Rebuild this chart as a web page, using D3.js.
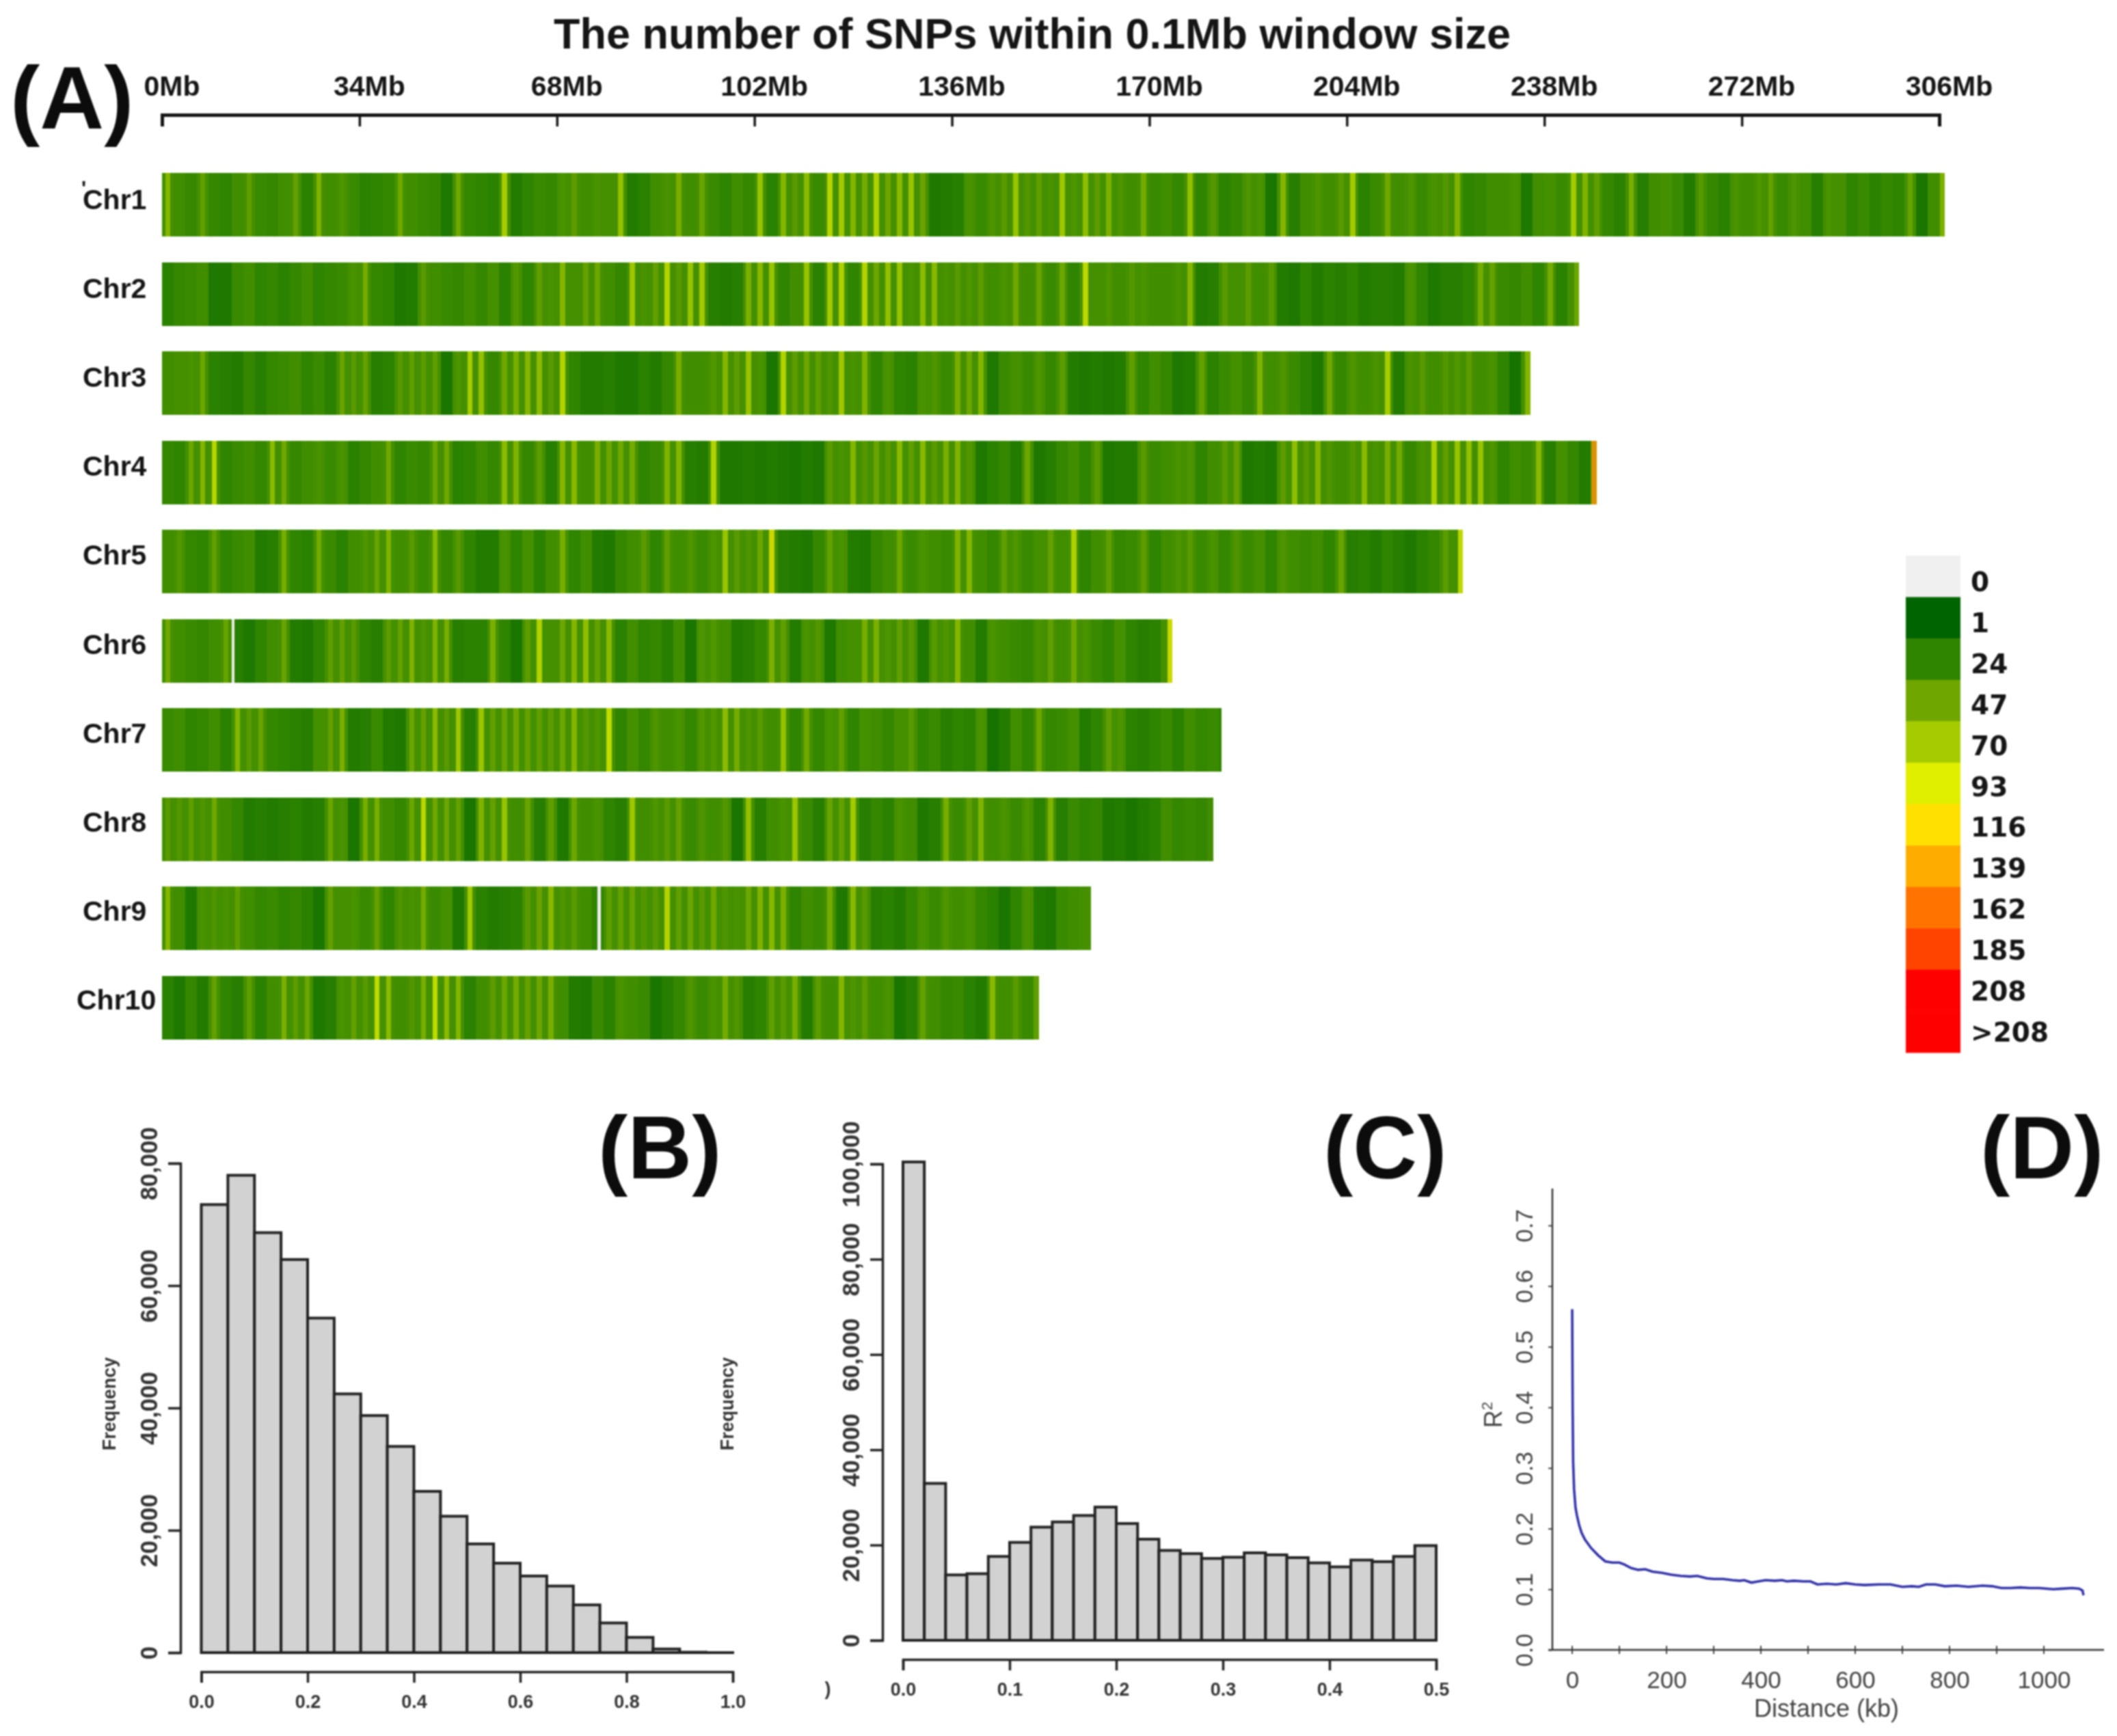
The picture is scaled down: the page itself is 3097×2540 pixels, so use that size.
<!DOCTYPE html>
<html><head><meta charset="utf-8">
<script src="https://cdn.jsdelivr.net/npm/d3@7/dist/d3.min.js"></script>
<style>html,body{margin:0;background:#fff}svg{display:block;filter:blur(0.9px)}text{font-family:"Liberation Sans",Arial,sans-serif}</style>
</head><body><svg id="c" width="3097" height="2540"></svg>
<script>
const chrNames=["Chr1","Chr2","Chr3","Chr4","Chr5","Chr6","Chr7","Chr8","Chr9","Chr10"];
const chrLengths=[307,244,235.6,247,224,174,182.4,181,160,151];
const binMb=2;
// SNP counts per 0.1Mb window, read in 2Mb steps along each chromosome
const chr1=[62,30,27,45,26,24,30,44,28,26,30,46,22,60,30,36,28,22,24,26,52,30,28,26,16,52,26,24,22,80,18,24,28,26,34,42,30,34,32,70,18,22,30,34,56,30,48,28,24,30,26,72,22,62,40,66,28,88,78,62,54,84,50,66,72,48,16,18,20,34,28,36,40,72,38,44,34,76,36,68,42,58,36,30,54,28,30,26,70,24,38,22,26,36,34,14,62,20,30,36,30,40,78,22,28,52,30,36,28,34,38,60,24,26,30,30,34,16,30,32,28,78,60,44,26,22,58,20,30,32,28,18,40,26,22,34,30,36,46,28,36,30,20,34,32,24,28,22,26,24,48,14,30,58];
const chr2=[22,26,28,30,16,16,28,30,24,26,22,26,30,24,26,28,34,55,26,24,16,18,40,30,28,26,30,26,32,22,38,24,44,34,62,32,46,50,30,26,76,34,44,86,40,72,78,20,18,20,58,64,72,24,30,72,22,78,84,24,86,50,70,72,34,66,64,34,40,36,42,30,34,52,30,48,28,50,24,90,32,36,30,38,34,30,30,34,62,18,20,40,32,42,30,40,18,16,24,18,22,20,24,18,20,20,18,34,24,16,20,20,24,54,46,28,26,30,24,54,22,50];
const chr3=[30,32,34,50,22,20,18,26,20,26,28,30,24,28,22,48,40,46,20,22,40,44,42,44,14,36,80,70,26,52,56,62,66,40,86,24,18,18,20,16,16,22,18,26,56,30,30,38,62,42,72,34,14,86,42,50,44,36,76,34,60,24,34,24,22,34,36,28,56,50,62,16,28,32,28,36,26,42,18,16,18,16,18,44,24,30,26,16,18,46,22,28,32,26,60,30,36,28,22,16,52,26,36,30,34,80,18,34,40,30,38,38,42,30,34,24,12,62];
const chr4=[26,24,50,62,88,24,28,30,26,66,52,26,30,34,28,34,22,26,30,52,24,28,26,50,52,22,24,30,26,66,60,26,42,20,62,64,30,56,50,52,54,24,28,60,62,20,18,86,16,16,18,16,18,16,14,18,16,40,34,62,38,48,40,66,44,64,40,56,60,38,16,22,26,18,50,16,20,26,30,24,40,16,18,18,40,28,30,34,36,24,30,40,46,16,18,16,42,68,40,62,36,30,38,66,34,56,54,26,34,82,44,72,70,72,36,24,30,28,64,20,32,26,18,150];
const chr5=[30,38,26,24,44,24,28,30,18,20,56,24,22,54,28,22,30,36,48,60,30,40,28,66,26,40,24,18,18,34,24,32,22,30,56,24,30,18,16,26,30,40,24,44,30,36,28,36,72,40,36,50,100,20,18,16,26,46,34,18,16,26,30,50,28,34,30,28,60,62,30,26,44,36,28,32,46,30,84,24,30,44,26,28,42,24,30,36,40,28,34,26,36,28,32,24,36,30,28,30,24,48,20,22,18,24,20,16,22,26,42,90];
const chr6=[52,30,28,26,30,48,20,16,24,30,48,18,16,24,44,46,40,24,20,42,46,60,36,60,56,20,22,22,58,24,14,42,86,32,50,62,68,46,64,22,30,24,26,20,30,14,36,38,30,18,20,26,58,44,18,34,38,16,30,32,56,58,36,44,40,16,40,36,62,30,18,34,30,28,26,34,44,30,52,34,28,24,32,24,20,22,100];
const chr7=[28,30,24,26,30,22,62,40,48,26,24,22,20,32,46,58,18,20,28,18,16,50,46,66,40,76,20,74,44,48,52,46,44,42,50,62,38,36,92,24,32,26,36,30,34,26,38,38,66,54,36,40,30,70,24,52,26,34,44,24,32,30,26,32,40,24,28,20,24,22,34,12,18,30,24,50,26,28,32,18,24,44,36,22,20,24,28,22,30,26,28,24];
const chr8=[40,38,44,36,52,30,26,18,20,18,20,22,18,20,50,34,14,56,56,30,26,50,90,52,50,46,14,60,46,72,30,48,20,44,16,50,30,34,24,20,76,30,36,40,46,28,36,30,38,14,70,20,30,34,74,28,20,48,46,78,20,26,22,34,30,16,20,56,28,44,60,30,34,28,36,22,60,20,28,24,26,16,18,14,18,22,30,26,28,26,30];
const chr9=[62,30,16,34,36,34,44,30,26,28,24,26,22,14,46,32,34,28,46,24,36,34,54,28,32,16,78,22,18,20,22,40,48,64,36,40,30,24,44,46,48,38,40,86,44,50,40,52,36,34,50,60,64,58,24,30,28,54,16,64,40,20,22,18,26,34,28,36,30,34,26,22,14,24,34,18,16,28,30,32];
const chr10=[22,16,26,18,46,24,20,44,22,30,58,42,50,16,20,34,46,40,92,66,30,38,56,92,66,62,22,30,42,50,54,46,50,56,30,18,16,28,22,34,30,28,14,20,26,36,28,34,54,36,20,24,44,40,56,18,42,30,62,36,42,30,34,14,20,46,30,26,28,22,18,64,30,40,28,44];
const densities=[chr1,chr2,chr3,chr4,chr5,chr6,chr7,chr8,chr9,chr10];
// narrow empty windows: chromosome, position in Mb, count
const gaps=[[5,12,0],[8,75,0]];
const gapWidthMb=0.5;
const peakFloor=32;   // above this a bin shows a narrow peak over its background
const peakWidthMb=0.9;
const legendLabels=["0","1","24","47","70","93","116","139","162","185","208",">208"];
const legendValues=[0,1,24,47,70,93,116,139,162,185,208,209];
const legendColors=["#f0f0f0","#006400","#2f8400","#6fa600","#a6cc00","#e0ee00","#ffe000","#ffac00","#ff7400","#ff4400","#ff0000","#ff0000"];
const mbTicks=[0,34,68,102,136,170,204,238,272,306];
// panel B
const mafBins=d3.range(0,20).map(i=>i*0.05);
const mafCounts=[73246,78033,68656,64262,54689,42295,38754,33705,26361,22295,17770,14623,12525,10885,7803,4852,2492,590,65,0];
// panel C
const hetBins=d3.range(0,25).map(i=>i*0.02);
const hetCounts=[100420,32940,13730,13985,17607,20556,23757,24852,26200,27970,24515,21230,18870,18197,17186,17439,18365,17944,17355,16259,15417,16849,16512,17607,19882];
// panel D
const ldDist=[0,1,2,4,7,10,15,20,27,40,55,70,85,100,110,125,140,155,170,190,210,230,250,265,285,300,320,340,355,365,380,395,410,430,445,455,470,490,505,520,540,560,580,600,620,650,675,700,720,735,750,770,790,815,840,870,890,910,930,950,970,990,1020,1040,1060,1075,1082,1084];
const ldR2=[.562,.40,.31,.265,.235,.222,.205,.193,.182,.168,.156,.146,.144,.144,.141,.135,.132,.133,.129,.127,.124,.122,.121,.122,.118,.117,.117,.115,.114,.115,.111,.113,.115,.114,.115,.113,.114,.113,.113,.108,.109,.108,.110,.108,.107,.108,.108,.104,.105,.104,.108,.108,.105,.106,.104,.106,.105,.102,.102,.103,.102,.102,.100,.101,.102,.101,.098,.090];

const svg=d3.select("#c");
svg.append("rect").attr("width",3097).attr("height",2540).attr("fill","#fff");
const INK="#151515";
const heat=d3.scaleLinear().domain(legendValues.slice(0,11)).range(legendColors.slice(0,11)).clamp(true);
const xMb=d3.scaleLinear().domain([0,306]).range([237,2837]);
const rowY=d3.scaleBand().domain(chrNames).range([253,1520.5]).paddingInner(37.5/130.5);
const labelY=d3.scaleLinear().domain([0,9]).range([306,1477]);

svg.append("text").attr("x",1510).attr("y",71).attr("text-anchor","middle").attr("font-size",63).attr("font-weight",700).attr("fill",INK).text("The number of SNPs within 0.1Mb window size");
[["(A)",15,188],["(B)",875,1724],["(C)",1936,1724],["(D)",2897,1724]].forEach(p=>{
  svg.append("text").attr("x",p[1]).attr("y",p[2]).attr("font-size",130).attr("font-weight",700).attr("fill","#0c0c0c").text(p[0]);
});

const axA=svg.append("g").attr("transform","translate(0,168)").call(d3.axisBottom(xMb).tickValues(mbTicks).tickSize(17).tickFormat(d=>d+"Mb"));
axA.select(".domain").attr("stroke",INK).attr("stroke-width",5);
axA.selectAll(".tick line").attr("stroke",INK).attr("stroke-width",3.5);
axA.selectAll(".tick text").attr("y",-28).attr("dy",0).attr("dx",14).attr("font-size",41).attr("font-weight",700).attr("font-family","Liberation Sans").attr("fill",INK);

const strip=svg.append("g").attr("shape-rendering","crispEdges");
chrNames.forEach((name,c)=>{
  const len=chrLengths[c];
  const isLast=i=>(i+1)*binMb>=len;
  const peakX=i=>isLast(i)?xMb(len-peakWidthMb):xMb((i+0.5)*binMb-peakWidthMb/2);
  strip.selectAll(null).data(densities[c]).enter().append("rect")
    .attr("x",(d,i)=>xMb(i*binMb))
    .attr("width",(d,i)=>xMb(Math.min((i+1)*binMb,len))-xMb(i*binMb)+(isLast(i)?0:0.6))
    .attr("y",rowY(name)).attr("height",rowY.bandwidth()).attr("fill",d=>heat(Math.min(d,peakFloor)));
  strip.selectAll(null).data(densities[c].map((d,i)=>[d,i]).filter(p=>p[0]>peakFloor)).enter().append("rect")
    .attr("x",p=>peakX(p[1])).attr("width",xMb(peakWidthMb)-xMb(0))
    .attr("y",rowY(name)).attr("height",rowY.bandwidth()).attr("fill",p=>heat(p[0])).attr("fill-opacity",0.8);
  svg.append("text").attr("x",name==="Chr10"?112:121).attr("y",labelY(c)).attr("font-size",41).attr("font-weight",700).attr("fill",INK).text(name);
});
gaps.forEach(g=>{
  strip.append("rect").attr("x",xMb(g[1])).attr("width",xMb(gapWidthMb)-xMb(0)).attr("y",rowY(chrNames[g[0]])).attr("height",rowY.bandwidth()).attr("fill",heat(g[2]));
});
svg.append("text").attr("x",119).attr("y",285).attr("font-size",30).attr("font-weight",700).attr("fill",INK).text("'");

const legY=d3.scaleBand().domain(legendLabels).range([813,1540]);
const legLabelY=d3.scaleLinear().domain([0,11]).range([865,1524]);
legendLabels.forEach((l,i)=>{
  svg.append("rect").attr("x",2788).attr("width",80).attr("y",legY(l)).attr("height",legY.bandwidth()+0.5).attr("fill",legendColors[i]);
  svg.append("text").attr("x",2883).attr("y",legLabelY(i)).attr("font-size",39).attr("font-weight",700).style("font-family","DejaVu Sans").attr("fill",INK).text(l);
});

function hist(bins,counts,binW,o){
  const x=d3.scaleLinear().domain(o.xd).range(o.xr);
  const y=d3.scaleLinear().domain([0,o.ymax]).range(o.yr);
  svg.append("g").selectAll("rect").data(counts).enter().append("rect")
    .attr("x",(d,i)=>x(bins[i])).attr("width",x(binW)-x(0))
    .attr("y",d=>y(d)).attr("height",d=>Math.max(y(0)-y(d),0.01))
    .attr("fill","#d2d2d2").attr("stroke","#222").attr("stroke-width",4);
  const ax=svg.append("g").attr("transform",`translate(0,${o.xaxisY})`).call(d3.axisBottom(x).tickValues(o.xticks).tickSize(16).tickSizeOuter(16).tickFormat(d3.format(".1f")));
  ax.select(".domain").attr("stroke","#222").attr("stroke-width",3.5);
  ax.selectAll("line").attr("stroke","#222").attr("stroke-width",3.5);
  ax.selectAll("text").attr("y",44).attr("dy","0.32em").attr("font-size",27).attr("font-weight",700).attr("font-family","Liberation Sans").attr("fill","#333");
  const ay=svg.append("g").attr("transform",`translate(${o.yaxisX},0)`).call(d3.axisLeft(y).tickValues(o.yticks).tickSize(18).tickSizeOuter(18).tickFormat(d3.format(",")));
  ay.select(".domain").attr("stroke","#222").attr("stroke-width",3.5);
  ay.selectAll("line").attr("stroke","#222").attr("stroke-width",3.5);
  ay.selectAll("text").attr("x",null).attr("dy",null)
    .attr("transform",d=>`translate(${o.labelDx},0) rotate(-90)`).attr("y",0).attr("dy","0.35em").attr("text-anchor","middle")
    .attr("font-size",35).attr("font-weight",700).attr("font-family","Liberation Sans").attr("fill","#333");
  svg.append("text").attr("transform",`translate(${o.freqX},2054) rotate(-90)`).attr("text-anchor","middle").attr("dy","0.35em").attr("font-size",27).attr("font-weight",700).attr("fill","#333").text("Frequency");
}
hist(mafBins,mafCounts,0.05,{xd:[0,1],xr:[294.5,1072],ymax:80000,yr:[2418,1702],xaxisY:2446,yaxisX:264,labelDx:-46,freqX:160,
  xticks:[0,.2,.4,.6,.8,1],yticks:[0,20000,40000,60000,80000]});
hist(hetBins,hetCounts,0.02,{xd:[0,.5],xr:[1321,2101],ymax:100000,yr:[2400,1703],xaxisY:2428,yaxisX:1291,labelDx:-46,freqX:1064,
  xticks:[0,.1,.2,.3,.4,.5],yticks:[0,20000,40000,60000,80000,100000]});
svg.append("text").attr("x",1211).attr("y",2471).attr("dy","0.32em").attr("text-anchor","middle").attr("font-size",27).attr("font-weight",700).attr("fill","#333").text(")");

const xD=d3.scaleLinear().domain([0,1000]).range([2300,2990]);
const yD=d3.scaleLinear().domain([0,.7]).range([2414,1793]);
const GD="#444";
const axX=svg.append("g").attr("transform","translate(0,2414)").call(d3.axisBottom(xD).tickValues(d3.range(0,1001,200)).tickSize(0).tickFormat(d3.format("d")));
axX.select(".domain").remove();
axX.selectAll("text").attr("y",45).attr("dy","0.32em").attr("font-size",35).attr("font-family","Liberation Sans").attr("fill",GD);
svg.append("g").selectAll("line").data(d3.range(0,1001,100)).enter().append("line")
  .attr("x1",d=>xD(d)).attr("x2",d=>xD(d)).attr("y1",2408).attr("y2",2420).attr("stroke",GD).attr("stroke-width",2);
svg.append("line").attr("x1",2265).attr("x2",3078).attr("y1",2414).attr("y2",2414).attr("stroke","#333").attr("stroke-width",2.5);
const axY=svg.append("g").attr("transform","translate(2271,0)").call(d3.axisLeft(yD).tickValues(d3.range(0,8).map(i=>i/10)).tickSize(6).tickFormat(d3.format(".1f")));
axY.select(".domain").remove();
axY.selectAll("line").attr("stroke",GD).attr("stroke-width",2);
axY.selectAll("text").attr("x",null).attr("transform","translate(-41,0) rotate(-90)").attr("y",0).attr("dy","0.35em").attr("text-anchor","middle").attr("font-size",35).attr("font-family","Liberation Sans").attr("fill",GD);
svg.append("line").attr("x1",2271).attr("x2",2271).attr("y1",1739).attr("y2",2414).attr("stroke","#333").attr("stroke-width",2.5);
svg.append("text").attr("x",2672).attr("y",2500).attr("dy","0.32em").attr("text-anchor","middle").attr("font-size",36).attr("fill",GD).text("Distance (kb)");
const rl=svg.append("text").attr("transform","translate(2184,2070) rotate(-90)").attr("text-anchor","middle").attr("dy","0.35em").attr("font-size",36).attr("fill",GD);
rl.append("tspan").text("R");
rl.append("tspan").attr("font-size",22).attr("dy","-0.6em").text("2");
const ldLine=d3.line().x((d,i)=>xD(ldDist[i])).y(d=>yD(d));
svg.append("path").attr("d",ldLine(ldR2)).attr("fill","none").attr("stroke","#3030a8").attr("stroke-width",3.6);
</script></body></html>
